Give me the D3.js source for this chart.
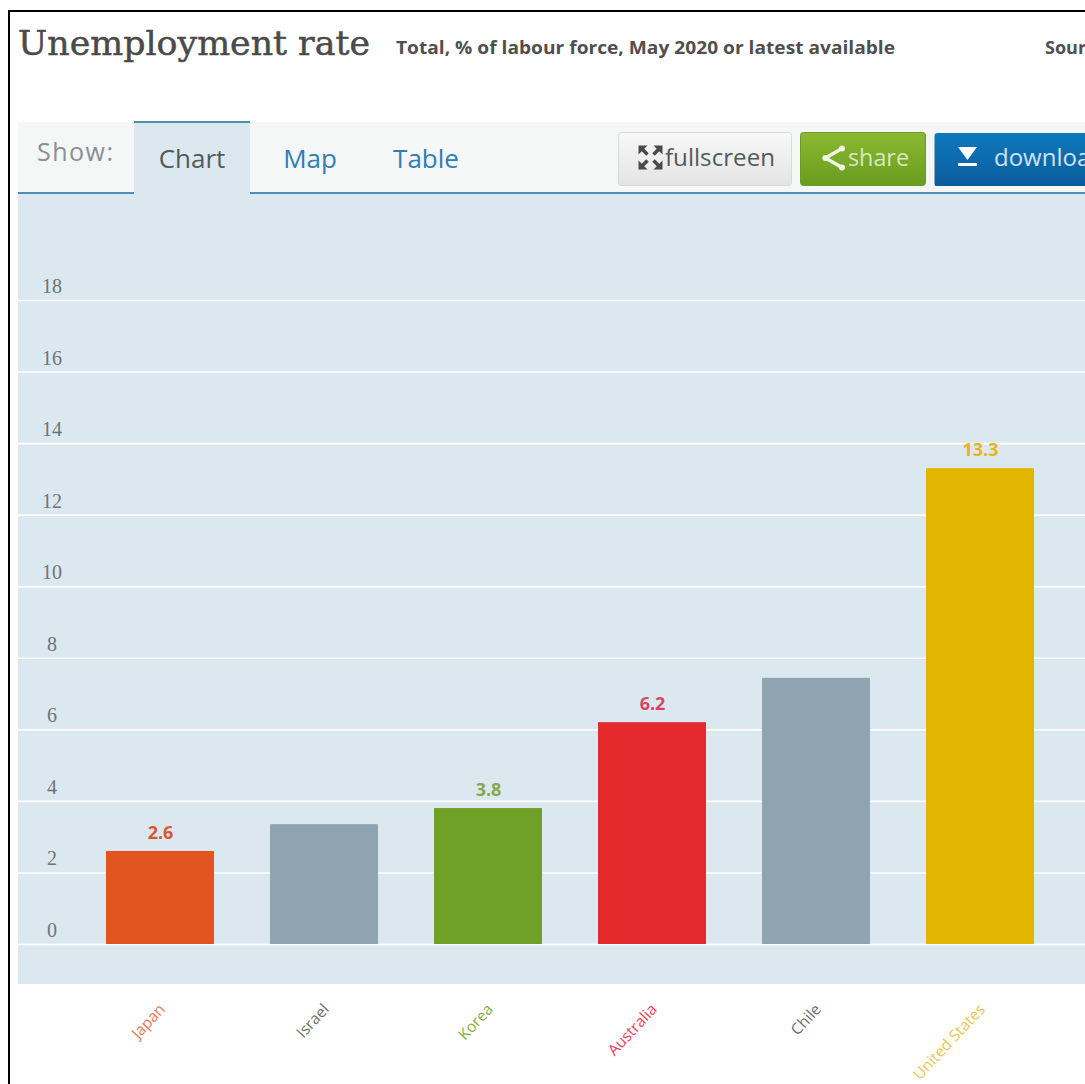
<!DOCTYPE html>
<html>
<head>
<meta charset="utf-8">
<script src="https://cdn.jsdelivr.net/npm/d3@7/dist/d3.min.js"></script>
<style>
  html, body { margin: 0; padding: 0; background: #fff; overflow: hidden; }
  svg { display: block; }
  .ui { font-family: "Open Sans", sans-serif; }
</style>
</head>
<body>
<div id="chart"></div>
<script>
// Unemployment rate by country, total, % of labour force
const countries = ["Japan", "Israel", "Korea", "Australia", "Chile", "United States"];
const rates = [2.6, 3.35, 3.8, 6.2, 7.44, 13.3];
const barColors = ["#e25420", "#8fa4b1", "#70a028", "#e52a2e", "#8fa4b1", "#e2b500"];
const labelColors = ["#e8775a", "#6f6f6f", "#86ad4a", "#e5435a", "#6f6f6f", "#eac552"];
const valueColors = ["#d9572f", null, "#86a84a", "#d9455c", null, "#e6b420"];
const yTicks = [0, 2, 4, 6, 8, 10, 12, 14, 16, 18];
const tabs = ["Chart", "Map", "Table"];

const W = 1085, H = 1084;
const svg = d3.select("#chart").append("svg").attr("width", W).attr("height", H);

const defs = svg.append("defs");
function vGrad(id, top, bottom) {
  const g = defs.append("linearGradient").attr("id", id).attr("x1", 0).attr("x2", 0).attr("y1", 0).attr("y2", 1);
  g.append("stop").attr("offset", 0).attr("stop-color", top);
  g.append("stop").attr("offset", 1).attr("stop-color", bottom);
}
vGrad("gFull", "#f8f8f8", "#e4e4e4");
vGrad("gShare", "#8cb92f", "#699c1f");
vGrad("gDown", "#0f78bd", "#0a5c9c");

// Page frame: dark rule along the top and left edges
svg.append("rect").attr("x", 8).attr("y", 10).attr("width", W - 8).attr("height", 2).attr("fill", "#000");
svg.append("rect").attr("x", 8).attr("y", 10).attr("width", 2).attr("height", H - 10).attr("fill", "#000");

// Heading row
svg.append("text").attr("x", 18).attr("y", 55)
  .attr("font-family", "'DejaVu Serif', serif").attr("font-size", 34).attr("fill", "#4a4a4a")
  .attr("stroke", "#4a4a4a").attr("stroke-width", 0.5)
  .attr("textLength", 352).attr("lengthAdjust", "spacingAndGlyphs")
  .text("Unemployment rate");
svg.append("text").attr("x", 396).attr("y", 54).attr("class", "ui")
  .attr("font-size", 18).attr("font-weight", 700).attr("fill", "#4f4f4f")
  .attr("textLength", 499).attr("lengthAdjust", "spacingAndGlyphs")
  .text("Total, % of labour force, May 2020 or latest available");
svg.append("text").attr("x", 1045).attr("y", 54).attr("class", "ui")
  .attr("font-size", 18).attr("font-weight", 700).attr("fill", "#4f4f4f").text("Source");

// Toolbar strip with the view tabs
svg.append("rect").attr("x", 18).attr("y", 122).attr("width", W - 18).attr("height", 72).attr("fill", "#f5f6f6");

// Chart panel
const panel = { left: 18, top: 194, bottom: 984 };
svg.append("rect").attr("x", panel.left).attr("y", panel.top).attr("width", W - panel.left)
  .attr("height", panel.bottom - panel.top).attr("fill", "#dce8f0");

svg.append("rect").attr("x", 18).attr("y", 192).attr("width", W - 18).attr("height", 2).attr("fill", "#4f8fb5");
svg.append("rect").attr("x", 134).attr("y", 122).attr("width", 116).attr("height", 73).attr("fill", "#dce8f0");
svg.append("rect").attr("x", 134).attr("y", 121).attr("width", 116).attr("height", 2).attr("fill", "#4f8fb5");

svg.append("text").attr("x", 37).attr("y", 161).attr("class", "ui")
  .attr("font-size", 25).attr("fill", "#8a8f93").attr("textLength", 76).text("Show:");

const tabX = d3.scaleOrdinal().domain(tabs).range([192, 310, 426]);
svg.selectAll("text.tab").data(tabs).join("text").attr("class", "tab ui")
  .attr("x", d => tabX(d)).attr("y", 168).attr("text-anchor", "middle").attr("font-size", 26)
  .attr("fill", d => d === "Chart" ? "#55595c" : "#2f7fb3").text(d => d);

// Buttons
function button(x, w, fill, stroke) {
  svg.append("rect").attr("x", x + 0.5).attr("y", 132.5).attr("width", w).attr("height", 53).attr("rx", 3)
    .attr("fill", fill).attr("stroke", stroke);
}
button(618, 173, "url(#gFull)", "#d9d9d9");
button(800, 125, "url(#gShare)", "#6c9a24");
svg.append("path").attr("d", `M935.5,133 H${W + 5} V186 H935.5 Q934.5,186 934.5,183 V136 Q934.5,133 937.5,133 Z`)
  .attr("fill", "url(#gDown)");

// fullscreen icon: four arrows pointing out at the corners
const iconCx = 650.5, iconCy = 157.5;
const arrows = svg.append("g");
[[-1, -1], [1, -1], [-1, 1], [1, 1]].forEach(([sx, sy]) => {
  arrows.append("path").attr("fill", "#4a4a4a").attr("d",
    `M${iconCx + 12 * sx},${iconCy + 12 * sy} L${iconCx + 3 * sx},${iconCy + 12 * sy} L${iconCx + 12 * sx},${iconCy + 3 * sy} Z`);
  arrows.append("line").attr("stroke", "#4a4a4a").attr("stroke-width", 3.5)
    .attr("x1", iconCx + 8 * sx).attr("y1", iconCy + 8 * sy)
    .attr("x2", iconCx + 3 * sx).attr("y2", iconCy + 3 * sy);
});
svg.append("text").attr("x", 665).attr("y", 166).attr("class", "ui").attr("font-size", 24).attr("fill", "#55595c")
  .attr("textLength", 110).attr("lengthAdjust", "spacingAndGlyphs").text("fullscreen");

// share icon: three joined nodes
svg.append("path").attr("d", "M842,148.5 L825.5,158 L842,167.5").attr("fill", "none").attr("stroke", "#f2f7e4")
  .attr("stroke-width", 3.5);
[[825.5, 158], [842, 148.5], [842, 167.5]].forEach(([cx, cy]) =>
  svg.append("circle").attr("cx", cx).attr("cy", cy).attr("r", 3).attr("fill", "#f2f7e4"));
svg.append("text").attr("x", 848).attr("y", 166).attr("class", "ui").attr("font-size", 24).attr("fill", "#d8e8bd")
  .attr("textLength", 61).attr("lengthAdjust", "spacingAndGlyphs").text("share");

// download icon
svg.append("path").attr("d", "M958,147 H977 L967.5,160 Z").attr("fill", "#fff");
svg.append("rect").attr("x", 958).attr("y", 163).attr("width", 19).attr("height", 3).attr("fill", "#fff");
svg.append("text").attr("x", 994).attr("y", 166).attr("class", "ui").attr("font-size", 24).attr("fill", "#cfe3f1")
  .text("download");

// Scales
const x = d3.scaleBand().domain(countries).range([78, 1062]).paddingInner(56 / 164).paddingOuter(28 / 164);
const y = d3.scaleLinear().domain([0, 18]).range([944, 300]);

// Gridlines and value axis; labels sit above their gridline
const axis = d3.axisLeft(y).tickValues(yTicks).tickSize(-(W - panel.left)).tickFormat(d3.format("d"));
const axisG = svg.append("g").attr("transform", `translate(${panel.left},0)`).call(axis);
axisG.select(".domain").remove();
axisG.selectAll(".tick line").attr("stroke", "#fff").attr("stroke-width", 1.6);
axisG.selectAll(".tick text")
  .attr("x", 34).attr("dy", "-7.5").attr("text-anchor", "middle")
  .attr("font-family", "'Liberation Serif', serif").attr("font-size", 20).attr("fill", "#6d7478");

// Bars
const rows = countries.map((c, i) => ({ c, v: rates[i], fill: barColors[i], label: labelColors[i], valueColor: valueColors[i] }));
svg.append("g").selectAll("rect").data(rows).join("rect")
  .attr("x", d => x(d.c)).attr("width", x.bandwidth())
  .attr("y", d => y(d.v)).attr("height", d => y(0) - y(d.v))
  .attr("fill", d => d.fill);

// Value labels on the highlighted countries
svg.append("g").selectAll("text").data(rows.filter(d => d.valueColor)).join("text")
  .attr("x", d => x(d.c) + x.bandwidth() / 2 + 0.5).attr("y", d => y(d.v) - 12)
  .attr("text-anchor", "middle").attr("class", "ui").attr("font-size", 18).attr("font-weight", 700)
  .attr("fill", d => d.valueColor).text(d => d.v.toFixed(1));

// Slanted country names under the panel
svg.append("g").selectAll("text").data(rows).join("text")
  .attr("text-anchor", "end").attr("class", "ui").attr("font-size", 15.5).attr("fill", d => d.label)
  .attr("transform", d => `translate(${x(d.c) + x.bandwidth() / 2 + 6},1010) rotate(-47)`)
  .text(d => d.c);
</script>
</body>
</html>
